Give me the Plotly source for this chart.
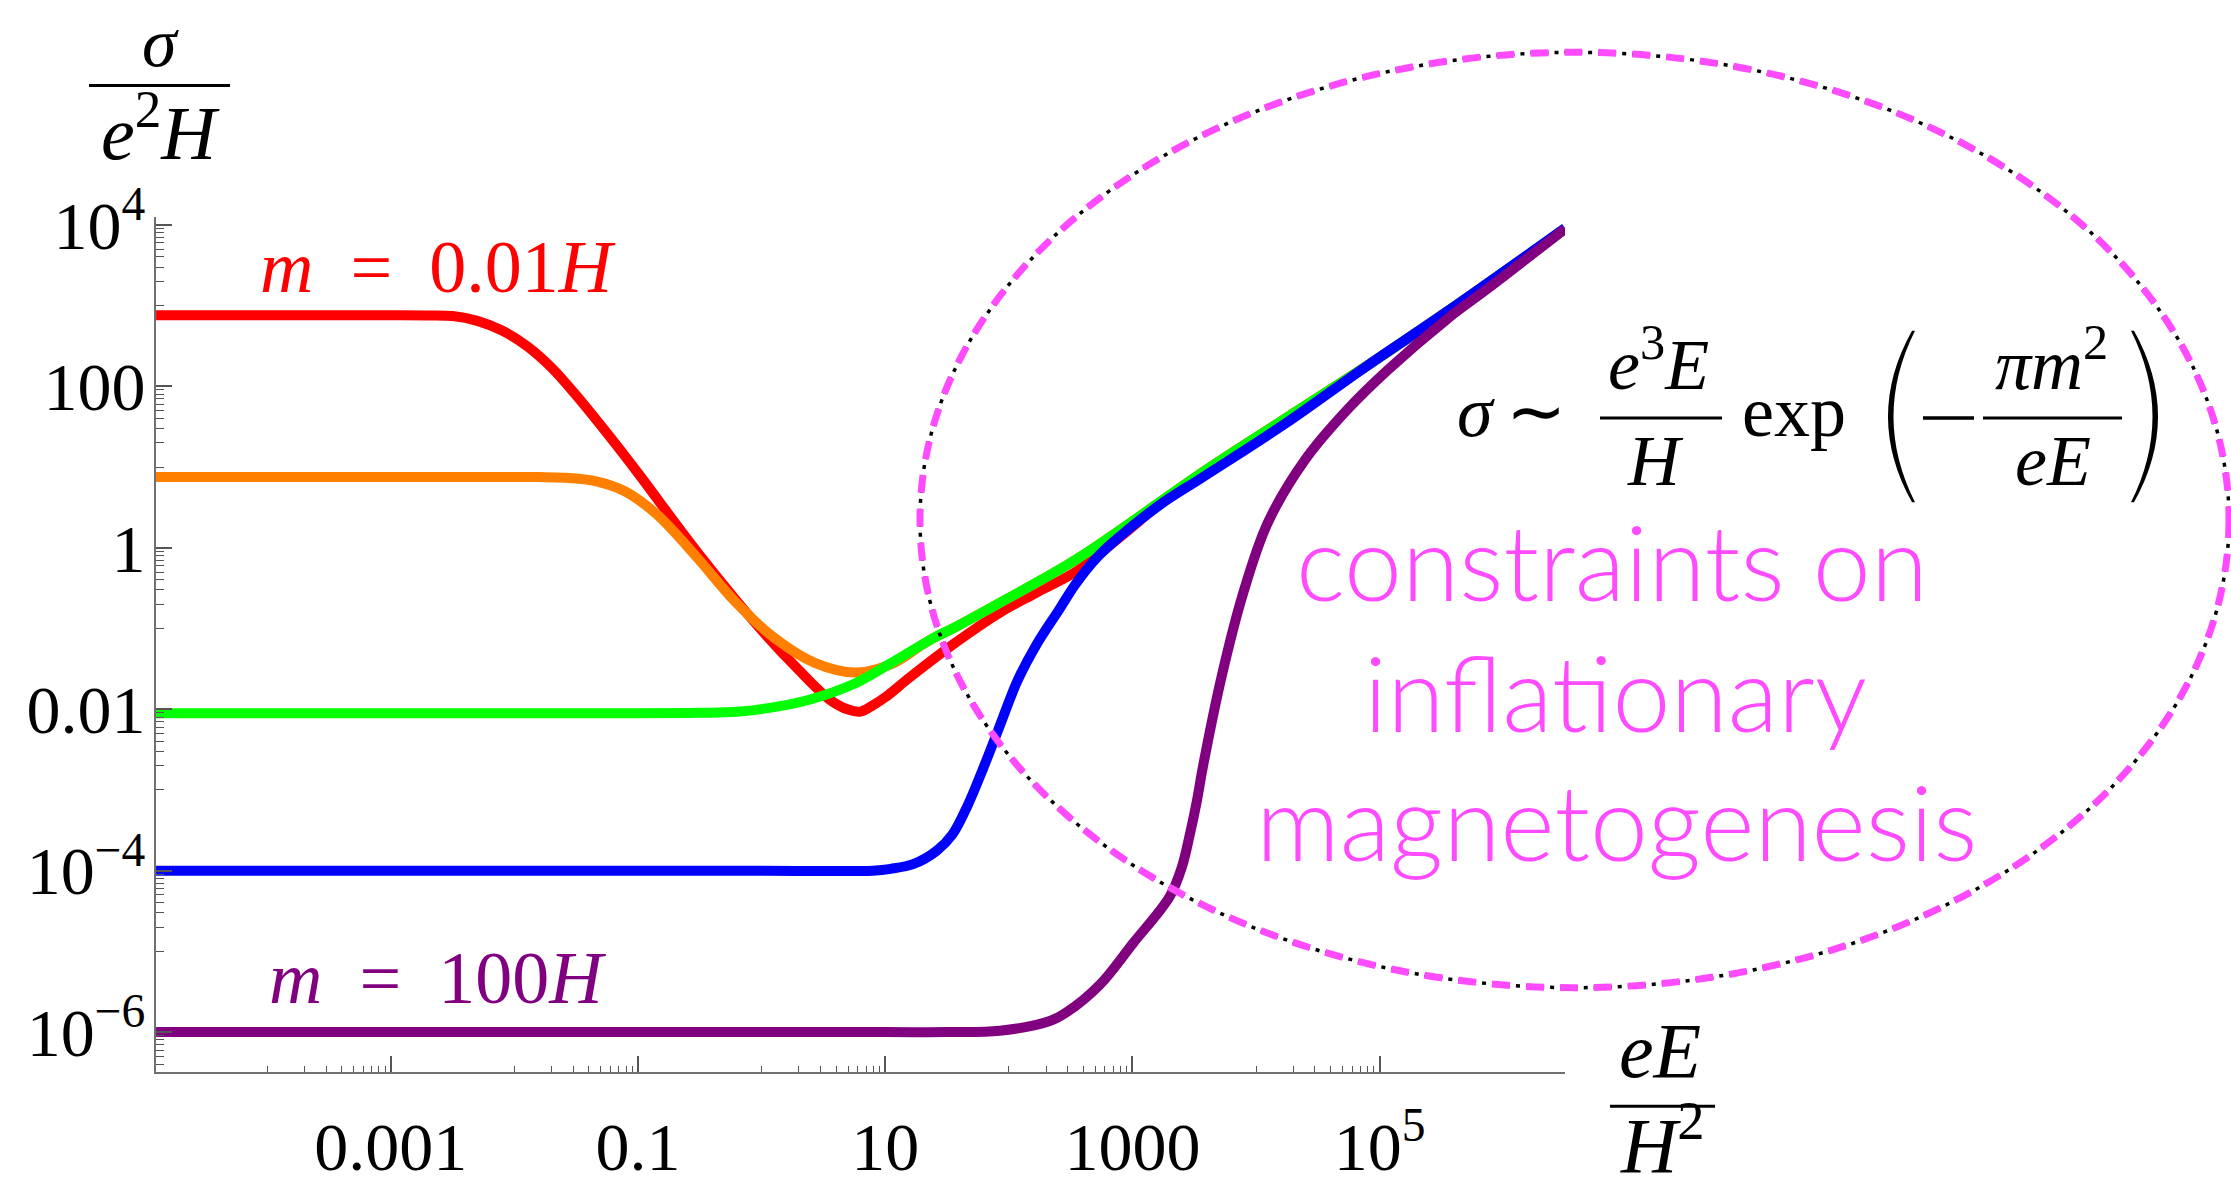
import plotly.graph_objects as go

# ---------------- data: sigma/(e^2 H) against eE/H^2 ----------------
red_x = [1.26e-5, 1e-3, 2.00e-3, 3.16e-3, 5.01e-3, 7.94e-3, 1.26e-2, 2.00e-2, 3.16e-2,
         6.31e-2, 0.1, 0.316, 1.0, 2.0, 3.55, 5.01, 6.31, 7.94, 10.0, 15.8, 35.2, 85.1,
         165, 355, 776, 1667, 3639, 17100, 80353, 354813, 3.16e6]
red_y = [759, 759, 755, 741, 646, 490, 316, 170, 77.3,
         20.9, 8.40, 0.805, 0.0951, 0.0305, 0.01315, 0.00989, 0.00933, 0.01117, 0.01403,
         0.0248, 0.0631, 0.158, 0.275, 0.513, 1.318, 3.47, 8.45, 39.4, 182, 851, 8913]

orange_x = [1.26e-5, 1e-3, 6.31e-3, 1.58e-2, 2.51e-2, 4.68e-2, 7.82e-2, 0.141, 0.294,
            0.618, 1.28, 2.69, 5.83, 11.7, 20.0, 25.1, 35.2, 85.1, 355, 3639, 17100,
            80353, 354813, 3.16e6]
orange_y = [7.50, 7.50, 7.50, 7.50, 7.38, 6.61, 5.01, 2.61, 0.785,
            0.211, 0.0755, 0.0375, 0.0284, 0.0372, 0.0631, 0.0776, 0.100, 0.209, 0.724,
            8.45, 39.4, 182, 851, 8913]

green_x = [1.26e-5, 0.1, 0.316, 0.631, 1.26, 2.51, 5.62, 11.7, 25.1, 35.2, 85.1, 355,
           3639, 17100, 80353, 354813, 3.16e6]
green_y = [0.00891, 0.00891, 0.00902, 0.00927, 0.0106, 0.0133, 0.0207, 0.0389, 0.0776,
           0.100, 0.209, 0.724, 8.45, 39.4, 182, 851, 8913]

blue_x = [1.26e-5, 1.0, 7.94, 11.1, 17.0, 26.1, 35.0, 46.6, 61.7, 82.2, 117.5, 166.0,
          257.0, 346.7, 524.8, 776.2, 1667, 3639, 17100, 80353, 354813, 3.16e6]
blue_y = [1.0e-4, 1.0e-4, 1.0e-4, 1.054e-4, 1.213e-4, 1.766e-4, 2.812e-4, 6.501e-4,
          1.816e-3, 5.559e-3, 0.02249, 0.06166, 0.1738, 0.3548, 0.7762, 1.349, 3.396,
          7.345, 34.2, 182, 851, 9120]

purple_x = [1.26e-5, 10, 31.6, 84.5, 214.8, 294.4, 544.5, 1007, 2004, 2512, 2911, 3319,
            3715, 5284, 7816, 12445, 24831, 54325, 116413, 356451, 763836, 3.16e6]
purple_y = [1.0e-6, 1.0e-6, 1.0e-6, 1.038e-6, 1.371e-6, 1.766e-6, 3.864e-6, 1.250e-5,
            4.786e-5, 1.107e-4, 2.786e-4, 7.211e-4, 1.919e-3, 0.02588, 0.2636, 2.032,
            12.16, 50.58, 159.2, 691.8, 1660, 8913]

series = [
    (red_x, red_y, "#ff0000"),
    (orange_x, orange_y, "#ff8000"),
    (green_x, green_y, "#00ff00"),
    (blue_x, blue_y, "#0000ff"),
    (purple_x, purple_y, "#800080"),
]

x_tick_vals = [1e-3, 0.1, 10, 1000, 1e5]
x_tick_text = ["0.001", "0.1", "10", "1000", "10<sup>5</sup>"]
y_tick_vals = [1e-6, 1e-4, 1e-2, 1, 100, 1e4]
y_tick_text = ["10<sup>\u22126</sup>", "10<sup>\u22124</sup>", "0.01", "1", "100", "10<sup>4</sup>"]

# ---------------- geometry helpers ----------------
W, H = 2231, 1197
L, R, T, B = 156, 1565, 217, 1089          # plot-area edges in page pixels


def px(x):
    return (x - L) / (R - L)


def py(y):
    return (B - y) / (B - T)


SERIF = "Liberation Serif, Times New Roman, serif"
SANS = "Lato, Open Sans, sans-serif"
MAGENTA = "#ff4bff"


def minor_vals(vals):
    out = []
    for v in vals:
        for k in range(1, 10):
            out.append(v * k / 10)
    return out


fig = go.Figure()
for xs, ys, col in series:
    fig.add_trace(go.Scatter(x=xs, y=ys, mode="lines",
                             line=dict(color=col, width=10, shape="spline", smoothing=1.0),
                             hoverinfo="skip", showlegend=False))

annotations = []


def label(text, cx, baseline, size, color="black", family=SERIF,
          asc=0.891, desc=0.216, sup=False, weight=None):
    cy = baseline - (asc - (asc + desc) / 2) * size
    if sup:
        cy -= 0.077 * size
    font = dict(family=family, size=size, color=color)
    if weight is not None:
        font["weight"] = weight
    annotations.append(dict(text=text, x=px(cx), y=py(cy), xref="paper", yref="paper",
                            xanchor="center", yanchor="middle", showarrow=False,
                            font=font))


shapes = []


def hbar(x0, x1, y, width=3):
    shapes.append(dict(type="line", xref="paper", yref="paper",
                       x0=px(x0), x1=px(x1), y0=py(y), y1=py(y),
                       line=dict(color="black", width=width)))


def path(points_cmds):
    parts = []
    for cmd, pts in points_cmds:
        coords = " ".join(f"{px(a):.5f},{py(b):.5f}" for a, b in pts)
        parts.append(f"{cmd} {coords}")
    shapes.append(dict(type="path", xref="paper", yref="paper",
                       path=" ".join(parts) + " Z",
                       fillcolor="black", line=dict(width=0)))


# axis titles
label("<i>\u03c3</i>", 160, 63, 70)
hbar(89, 230, 83)
label("<i>e</i><sup>2</sup><i>H</i>", 160, 157, 76, sup=True)

label("<i>eE</i>", 1660, 1093, 78)
hbar(1610, 1715, 1124)
label("<i>H</i><sup>2</sup>", 1662, 1190, 78, sup=True)

# curve labels
label("<i>m</i>\u2002=\u20020.01<i>H</i>", 438, 293, 74, color="#ff0000")
label("<i>m</i>\u2002=\u2002100<i>H</i>", 437, 1018, 74, color="#800080")

# asymptotic formula
label("<i>\u03c3</i>", 1476, 440, 72)
label("\u223c", 1536, 440, 72)
label("<i>e</i><sup>3</sup><i>E</i>", 1658, 392, 72, sup=True)
hbar(1600, 1722, 422)
label("<i>H</i>", 1655, 490, 72)
label("exp", 1794, 440, 72)
hbar(1923, 1974, 422, width=3.5)
label("<i>\u03c0m</i><sup>2</sup>", 2051, 392, 72, sup=True)
hbar(1983, 2122, 422)
label("<i>eE</i>", 2053, 490, 72)
# tall parentheses
path([("M", [(1912, 333)]), ("Q", [(1864, 420.5), (1912, 508)]),
      ("L", [(1915, 508)]), ("Q", [(1872, 420.5), (1915, 333)])])
path([("M", [(2134, 333)]), ("Q", [(2182, 420.5), (2134, 508)]),
      ("L", [(2131, 508)]), ("Q", [(2174, 420.5), (2131, 333)])])

# magenta caption
for txt, cx, base in [("constraints on", 1612, 608),
                      ("inflationary", 1615, 741),
                      ("magnetogenesis", 1616, 873)]:
    label(txt, cx, base, 104, color=MAGENTA, family=SANS, asc=0.987, desc=0.213, weight=300)

# dash-dotted ellipse: black dot-dash underneath, magenta dashes on top
ell = dict(type="circle", xref="paper", yref="paper",
           x0=px(920), x1=px(2229), y0=py(1003), y1=py(49))
shapes.append(dict(ell, line=dict(color="black", width=3.5, dash="18px,6px,4px,6px")))
shapes.append(dict(ell, line=dict(color=MAGENTA, width=7, dash="18px,16px")))

axis_common = dict(type="log", showline=True, linecolor="#707070", linewidth=2,
                   ticks="inside", ticklen=16, tickwidth=1.5, tickcolor="#555555",
                   showgrid=False, zeroline=False, tickmode="array",
                   tickfont=dict(family=SERIF, size=68, color="black"))

fig.update_layout(
    width=W, height=H, autosize=False,
    margin=dict(l=L, r=W - R, t=T, b=H - B),
    paper_bgcolor="white", plot_bgcolor="white",
    showlegend=False,
    xaxis=dict(axis_common, range=[-4.9, 6.5], tickvals=x_tick_vals, ticktext=x_tick_text,
               ticklabelstandoff=14,
               minor=dict(tickvals=minor_vals(x_tick_vals), ticks="inside", ticklen=6,
                          tickwidth=1, tickcolor="#555555", showgrid=False)),
    yaxis=dict(axis_common, range=[-6.494, 4.097], tickvals=y_tick_vals, ticktext=y_tick_text,
               ticklabelstandoff=-5,
               minor=dict(tickvals=minor_vals(y_tick_vals), ticks="inside", ticklen=8,
                          tickwidth=1, tickcolor="#555555", showgrid=False)),
    annotations=annotations,
    shapes=shapes,
)

fig.write_html("out.html")
